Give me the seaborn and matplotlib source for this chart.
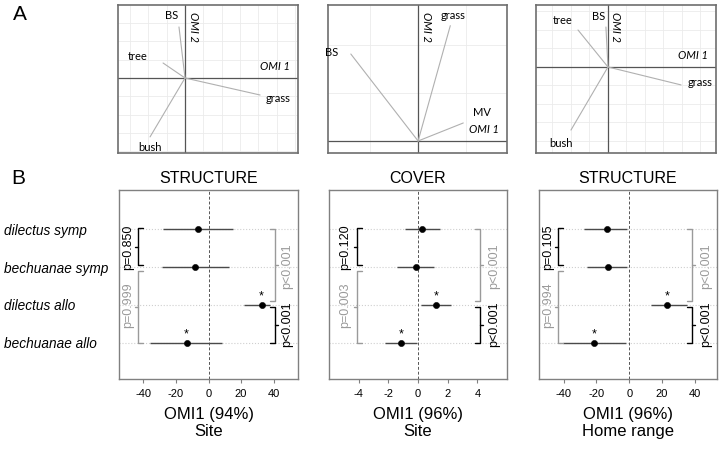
import numpy as np
import pandas as pd
import matplotlib
matplotlib.use("Agg")
import matplotlib.pyplot as plt
import matplotlib.transforms as mtransforms
import seaborn as sns

sns.set_style("white")
plt.rcParams['font.family'] = ['Liberation Sans', 'DejaVu Sans']
plt.rcParams['text.color'] = 'black'
plt.rcParams['axes.labelcolor'] = 'black'
plt.rcParams['xtick.labelcolor'] = 'black'
plt.rcParams['ytick.labelcolor'] = 'black'

# --- A: OMI variable scores (grid units)
a1_vars = ['BS', 'tree', 'bush', 'grass']
a1_x = [-0.33, -1.20, -1.91, 4.10]
a1_y = [2.79, 0.82, -3.22, -0.93]

a2_vars = ['BS', 'grass', 'MV']
a2_x = [-1.40, 0.67, 0.94]
a2_y = [1.81, 2.40, 0.375]

a3_vars = ['BS', 'tree', 'bush', 'grass']
a3_x = [-0.11, -1.62, -2.00, 3.95]
a3_y = [2.16, 2.00, -3.41, -0.97]

# --- B: OMI1 position of each group (mean and interval)
groups = ['dilectus symp', 'bechuanae symp', 'dilectus allo', 'bechuanae allo']
signif = [False, False, True, True]

site_struct_mean = [-6.3, -8.4, 32.6, -13.5]
site_struct_lo = [-27.7, -28.5, 21.7, -35.7]
site_struct_hi = [15.2, 12.5, 38.0, 8.0]

site_cover_mean = [0.29, -0.14, 1.2, -1.15]
site_cover_lo = [-0.88, -1.4, 0.2, -2.2]
site_cover_hi = [1.49, 1.1, 2.2, -0.07]

home_struct_mean = [-13.4, -12.8, 23.2, -21.3]
home_struct_lo = [-27.4, -25.6, 13.4, -40.2]
home_struct_hi = [-1.2, -1.2, 35.4, -1.8]

p_symp = ['p=0.850', 'p=0.120', 'p=0.105']
p_bech = ['p=0.999', 'p=0.003', 'p=0.994']
p_dil = ['p<0.001', 'p<0.001', 'p<0.001']
p_allo = ['p<0.001', 'p<0.001', 'p<0.001']

b_titles = ['STRUCTURE', 'COVER', 'STRUCTURE']
b_xlabels = ['OMI1 (94%)\nSite', 'OMI1 (96%)\nSite', 'OMI1 (96%)\nHome range']
b_ticks = [[-40, -20, 0, 20, 40], [-4, -2, 0, 2, 4], [-40, -20, 0, 20, 40]]

fig = plt.figure(figsize=(7.2, 4.51), dpi=100)
W, H = 720, 451


def px_axes(x0, y0, x1, y1):
    return fig.add_axes([x0 / W, 1 - y1 / H, (x1 - x0) / W, (y1 - y0) / H])


# ---------------- panel A
a_panels = [
    (a1_vars, a1_x, a1_y, (118, 5, 298, 153), (-3.66, 6.17), (-4.1, 3.99),
     [(-7, 11), (-25, 6), (0, -11), (18, -3)]),
    (a2_vars, a2_x, a2_y, (328, 5, 507, 153), (-1.875, 1.85), (-0.25, 2.83),
     [(-19, 2), (3, 10), (19, 10)]),
    (a3_vars, a3_x, a3_y, (536, 5, 716, 153), (-3.89, 5.84), (-4.65, 3.35),
     [(-7, 11), (-15, 9), (-10, -13), (19, 2)]),
]

for names, xs, ys, box, xl, yl, offs in a_panels:
    ax = px_axes(*box)
    ax.set_xlim(*xl)
    ax.set_ylim(*yl)
    ax.set_xticks(np.arange(np.ceil(xl[0]), xl[1], 1))
    ax.set_yticks(np.arange(np.ceil(yl[0]), yl[1], 1))
    ax.grid(True, color='#ebebeb', lw=0.6)
    ax.tick_params(length=0, labelbottom=False, labelleft=False)
    for s in ax.spines.values():
        s.set_color('#6e6e6e')
        s.set_linewidth(1.2)
    ax.axhline(0, color='#555555', lw=0.9)
    ax.axvline(0, color='#555555', lw=0.9)
    for n, x, y, o in zip(names, xs, ys, offs):
        ax.plot([0, x], [0, y], color='#b0b0b0', lw=0.8)
        ax.annotate(n, xy=(x, y), xytext=o, textcoords='offset pixels',
                    ha='center', va='center', fontsize=8, family='Lato')
    tr_x = mtransforms.blended_transform_factory(ax.transAxes, ax.transData)
    tr_y = mtransforms.blended_transform_factory(ax.transData, ax.transAxes)
    ax.annotate('OMI 1', xy=(0.87, 0), xycoords=tr_x, xytext=(0, 11),
                textcoords='offset pixels', ha='center', va='center',
                fontsize=8, style='italic', family='Lato')
    ax.annotate('OMI 2', xy=(0, 0.85), xycoords=tr_y, xytext=(8, 0),
                textcoords='offset pixels', ha='center', va='center',
                fontsize=8, style='italic', rotation=270, family='Lato')

# ---------------- panel B
b_panels = [
    (site_struct_mean, site_struct_lo, site_struct_hi, (119, 190, 298, 379), (-55, 55),
     (0.05, 0.106, 0.87, 0.94)),
    (site_cover_mean, site_cover_lo, site_cover_hi, (329, 190, 507, 379), (-6, 6),
     (0.09, 0.157, 0.85, 0.93)),
    (home_struct_mean, home_struct_lo, home_struct_hi, (539, 190, 717, 379), (-55, 53.5),
     (0.05, 0.107, 0.86, 0.94)),
]

gray = '#9a9a9a'


def bracket(ax, xa, y0, y1, side, color):
    tr = mtransforms.blended_transform_factory(ax.transAxes, ax.transData)
    tl, mt = 0.028, 0.017
    ym = (y0 + y1) / 2
    ax.plot([xa + side * tl, xa, xa, xa + side * tl], [y0, y0, y1, y1],
            color=color, lw=1, transform=tr, clip_on=False)
    ax.plot([xa, xa - side * mt], [ym, ym], color=color, lw=1, transform=tr,
            clip_on=False)


for i, (mean, lo, hi, box, xl, lay) in enumerate(b_panels):
    ax = px_axes(*box)
    df = pd.DataFrame({'group': groups, 'pos': np.arange(4), 'mean': mean,
                       'lo': lo, 'hi': hi, 'sig': signif})
    for p in df['pos']:
        ax.axhline(p, color='#cfcfcf', ls=':', lw=0.8)
    ax.axvline(0, color='#555555', ls=(0, (3, 2)), lw=0.7)
    ax.hlines(df['pos'], df['lo'], df['hi'], color='#4a4a4a', lw=1)
    sns.scatterplot(data=df, x='mean', y='pos', ax=ax, color='black', s=20,
                    edgecolor='black', legend=False, zorder=5)
    for _, r in df[df['sig']].iterrows():
        ax.annotate('*', xy=(r['mean'], r['pos']), xytext=(0, 2),
                    textcoords='offset points', ha='center', va='bottom', fontsize=9)
    ax.set_xlim(*xl)
    ax.set_ylim(3.95, -1.03)
    ax.set_xticks(b_ticks[i])
    ax.set_xticklabels([str(t) for t in b_ticks[i]])
    ax.tick_params(axis='x', length=3, width=0.8, color='#808080', labelsize=8,
                   pad=4, bottom=True)
    ax.set_yticks(np.arange(4))
    if i == 0:
        ax.set_yticklabels(groups, fontsize=9.8, style='italic', ha='left')
        ax.tick_params(axis='y', length=0, pad=83)
    else:
        ax.set_yticklabels([])
        ax.tick_params(axis='y', length=0)
    ax.set_xlabel(b_xlabels[i], fontsize=12, labelpad=6, linespacing=1.15)
    ax.set_ylabel('')
    ax.set_title(b_titles[i], fontsize=11.5, pad=5)
    for s in ax.spines.values():
        s.set_color('#808080')
        s.set_linewidth(1)

    xt, xbl, xbr, xtr = lay
    trb = mtransforms.blended_transform_factory(ax.transAxes, ax.transData)
    bracket(ax, xbl, -0.02, 0.95, 1, 'black')
    bracket(ax, xbl, 1.1, 3.0, 1, gray)
    bracket(ax, xbr, 0.0, 1.9, -1, gray)
    bracket(ax, xbr, 2.05, 3.0, -1, 'black')
    ax.text(xt, 0.47, p_symp[i], transform=trb, rotation=90, ha='center',
            va='center', fontsize=9, color='black')
    ax.text(xt, 2.0, p_bech[i], transform=trb, rotation=90, ha='center',
            va='center', fontsize=9, color=gray)
    ax.text(xtr, 0.97, p_dil[i], transform=trb, rotation=90, ha='center',
            va='center', fontsize=9, color=gray)
    ax.text(xtr, 2.5, p_allo[i], transform=trb, rotation=90, ha='center',
            va='center', fontsize=9, color='black')

fig.text(20 / W, 1 - 14 / H, 'A', fontsize=15, ha='center', va='center')
fig.text(18 / W, 1 - 178 / H, 'B', fontsize=15, ha='center', va='center')

fig.savefig('out.png', dpi=100)
